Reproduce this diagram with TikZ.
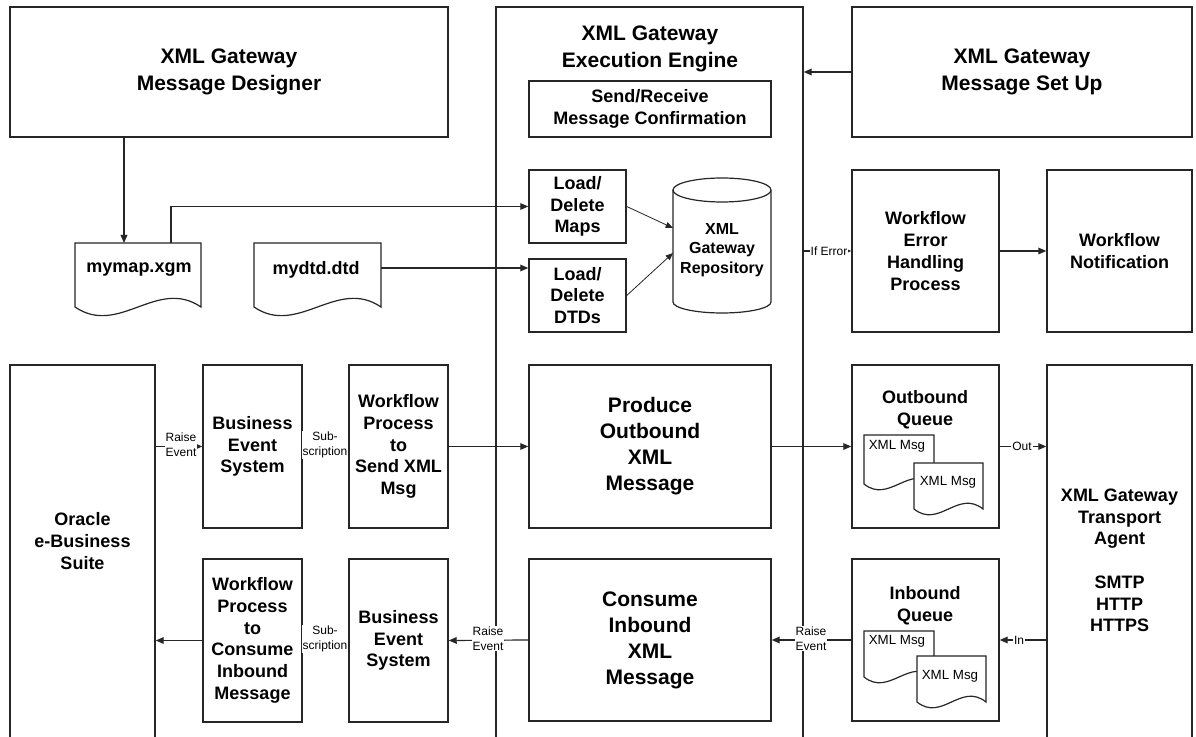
\documentclass[tikz,border=0pt]{standalone}
\usepackage{fontspec}
\setmainfont{Liberation Sans}
\usetikzlibrary{arrows.meta,fit}
\newcommand{\xdoc}[6]{%
  \draw[docline] (#1,#4) -- (#1,#2) -- (#3,#2) -- (#3,#4)
    .. controls +(-#5,-#6) and +(#5,#6) .. (#1,#4) -- cycle;}
\begin{document}
\begin{tikzpicture}[x=0.75pt,y=-0.75pt,
  box/.style={draw=black!85, line width=1.1pt, fill=white, inner sep=0pt, align=center,
    font=\bfseries\fontsize{13.5}{16.3}\selectfont},
  sz/.style 2 args={minimum width=#1*0.75pt, minimum height=#2*0.75pt},
  ttl/.style={align=center, inner sep=0pt, font=\bfseries\fontsize{15.75}{20.25}\selectfont},
  bigt/.style={font=\bfseries\fontsize{15.75}{19.5}\selectfont},
  medt/.style={align=center, inner sep=0pt, font=\bfseries\fontsize{13.5}{16.3}\selectfont},
  cylt/.style={align=center, inner sep=0pt, font=\bfseries\fontsize{12}{14.8}\selectfont},
  lbl/.style={align=center, fill=white, inner sep=0.8pt, font=\fontsize{9}{11.25}\selectfont},
  msg/.style={inner sep=0pt, font=\fontsize{10}{12}\selectfont},
  docline/.style={draw=black!85, line width=0.9pt, fill=white},
  arr/.style={draw=black!85, line width=0.9pt, -{Triangle[length=6pt,width=5pt]}},
  thinarr/.style={draw=black!85, line width=0.6pt, -{Triangle[length=5.5pt,width=4.5pt]}},
  hid/.style={inner sep=0pt}
]
\useasboundingbox (0,0) rectangle (1196,737);
\clip (0,0) rectangle (1196,737);
\fill[white] (0,0) rectangle (1196,737);

% big frames
\node[box, fit={(496,7) (803,760)}] (engine) {};
\node[ttl] (engtitle) at (650,48.5) {XML Gateway\\Execution Engine};
\node[box, fit={(10,365) (155,760)}] (oracle) {};
\node[medt] (oracletxt) at (82.5,541) {Oracle\\e-Business\\Suite};
\node[box, fit={(1047,365) (1192,760)}] (transport) {};
\node[medt] (transtxt) at (1119.5,560.5) {XML Gateway\\Transport\\Agent\\\mbox{}\\SMTP\\HTTP\\HTTPS};

% top boxes
\node[box, ttl, draw=black!85, line width=1.1pt, sz={438}{130}] (designer) at (229,72) {XML Gateway\\Message Designer};
\node[box, ttl, draw=black!85, line width=1.1pt, sz={340}{130}] (setup) at (1022,72) {XML Gateway\\Message Set Up};
\node[box, sz={242}{56}] (sr) at (650,109) {Send/Receive\\Message Confirmation};
\node[box, sz={97}{73}] (maps) at (577.5,206.5) {Load/\\Delete\\Maps};
\node[box, sz={97}{73}] (dtds) at (577.5,295.5) {Load/\\Delete\\DTDs};
\node[box, sz={147}{162}] (wferr) at (925.5,251) {Workflow\\Error\\Handling\\Process};
\node[box, sz={145}{162}] (wfnot) at (1119.5,251) {Workflow\\Notification};

% repository cylinder
\node[hid, fit={(673,178) (771,313)}] (repo) {};
\draw[docline] (673,190) -- (673,302) arc[start angle=180, end angle=360, x radius=36.75pt, y radius=8.25pt] -- (771,190);
\draw[docline] (722,190) ellipse [x radius=36.75pt, y radius=9pt];
\node[cylt] (repotxt) at (722,250) {XML\\Gateway\\Repository};

% documents
\xdoc{75}{243}{201}{307}{44}{30}
\node[medt] (mymap) at (139,270) {mymap.xgm};
\xdoc{254}{243}{381}{307}{44}{30}
\node[medt] (mydtd) at (316,270) {mydtd.dtd};

% middle / lower boxes
\node[box, sz={99}{163}] (bes1) at (252.5,446.5) {Business\\Event\\System};
\node[box, sz={99}{163}] (wfsend) at (398.5,446.5) {Workflow\\Process\\to\\Send XML\\Msg};
\node[box, bigt, sz={242}{163}] (produce) at (650,446.5) {Produce\\Outbound\\XML\\Message};
\node[box, sz={147}{163}] (outq) at (925.5,446.5) {};
\node[medt] (outqtxt) at (925,410) {Outbound\\Queue};
\xdoc{864}{435}{934}{484}{25}{20}
\xdoc{914}{463}{983}{509}{25}{20}
\node[msg] (om1) at (897,446) {XML Msg};
\node[msg] (om2) at (948,482) {XML Msg};

\node[box, sz={99}{163}] (wfcons) at (252.5,640.5) {Workflow\\Process\\to\\Consume\\Inbound\\Message};
\node[box, sz={99}{163}] (bes2) at (398.5,640.5) {Business\\Event\\System};
\node[box, bigt, sz={242}{162}] (consume) at (650,640) {Consume\\Inbound\\XML\\Message};
\node[box, sz={147}{162}] (inq) at (925.5,640) {};
\node[medt] (inqtxt) at (925,605.5) {Inbound\\Queue};
\xdoc{864}{631}{934}{677}{25}{20}
\xdoc{917}{656}{986}{702}{25}{20}
\node[msg] (im1) at (897,641) {XML Msg};
\node[msg] (im2) at (950,676) {XML Msg};

% connectors
\coordinate (mmin) at (124,243);
\coordinate (mmout) at (171,243);
\coordinate (mdout) at (381,268);
\coordinate (repoA) at (673,228);
\coordinate (repoB) at (673,253);
\draw[arr] (designer.south -| mmin) -- (mmin);
\draw[arr] (mmout) |- (maps.west);
\draw[arr] (mdout) -- (dtds.west |- mdout);
\draw[thinarr] (maps.east) -- (repoA);
\draw[thinarr] (dtds.east) -- (repoB);
\draw[arr] (setup.west) -- (engine.east |- setup.west);
\draw[arr] (engine.east |- wferr.west) -- (wferr.west);
\draw[arr] (wferr.east) -- (wfnot.west);
\draw[arr] (oracle.east |- bes1.west) -- (bes1.west);
\draw[arr] (bes1.east) -- (wfsend.west);
\draw[arr] (wfsend.east) -- (produce.west);
\draw[arr] (produce.east) -- (outq.west);
\draw[arr] (outq.east) -- (transport.west |- outq.east);
\draw[arr] (transport.west |- inq.east) -- (inq.east);
\draw[arr] (inq.west) -- (consume.east);
\draw[arr] (consume.west) -- (bes2.east);
\draw[arr] (bes2.west) -- (wfcons.east);
\draw[arr] (wfcons.west) -- (oracle.east |- wfcons.west);

% connector labels
\node[lbl] (l1) at (829,251) {If Error};
\node[lbl] (l2) at (181,445) {Raise\\Event};
\node[lbl] (l3) at (325,445) {Sub-\\scription};
\node[lbl] (l4) at (1022,446) {Out};
\node[lbl] (l5) at (1019,640) {In};
\node[lbl] (l6) at (811,638.5) {Raise\\Event};
\node[lbl] (l7) at (488,638.5) {Raise\\Event};
\node[lbl] (l8) at (325,639) {Sub-\\scription};
\end{tikzpicture}
\end{document}
